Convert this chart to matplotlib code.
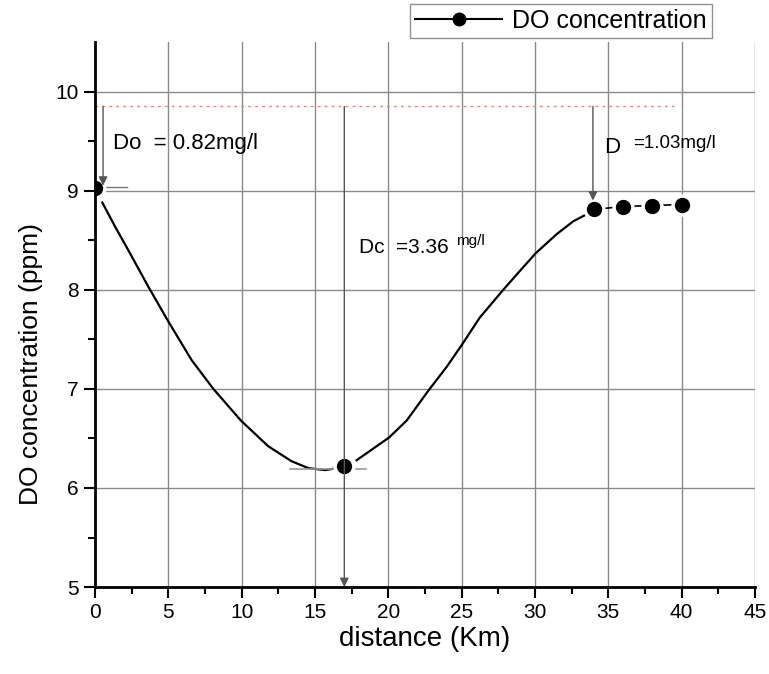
import matplotlib.pyplot as plt
import numpy as np
from matplotlib.lines import Line2D

plt.rcParams['font.family'] = ['Liberation Sans', 'DejaVu Sans']

# measured DO points
dist = [0, 17, 34, 36, 38, 40]
do_ppm = [9.03, 6.22, 8.81, 8.84, 8.85, 8.86]

# sag curve (NaN = gap at the critical point marker)
curve_x = [0.5, 1.36, 2.27, 3.64, 5.0, 6.59, 8.07, 9.95, 11.82, 13.4, 14.55, 15.7, 16.5,
           np.nan, 17.84, 20.06, 21.25, 22.72, 23.97, 25.04, 26.24, 27.84, 28.97, 30.06,
           31.47, 32.6, 33.5]
curve_y = [8.88, 8.64, 8.40, 8.03, 7.68, 7.29, 7.0, 6.68, 6.42, 6.27, 6.20, 6.18, 6.20,
           np.nan, 6.28, 6.51, 6.68, 6.98, 7.22, 7.45, 7.72, 8.0, 8.19, 8.37,
           8.56, 8.69, 8.76]

sat_level = 9.85
deficit_x = [0.55, 17, 33.95]
deficit_end = [9.05, 5.0, 8.9]

fig = plt.figure(figsize=(7.69, 6.74), dpi=100)
ax = fig.add_axes([0.1235, 0.129, 0.8583, 0.8087])

ax.set_xlim(0, 45)
ax.set_ylim(5, 10.5)
ax.set_xticks(np.arange(0, 46, 5))
ax.set_yticks(np.arange(5, 11, 1))
ax.set_xticks(np.arange(2.5, 45, 5), minor=True)
ax.set_yticks(np.arange(5.5, 10.5, 1), minor=True)
ax.grid(True, which='major', color='#8a8a8a', lw=1)
ax.set_axisbelow(True)

for s in ['top', 'right']:
    ax.spines[s].set_visible(False)
for s in ['left', 'bottom']:
    ax.spines[s].set_linewidth(2)
    ax.spines[s].set_zorder(10)
ax.tick_params(which='major', direction='out', length=8, width=1.5, labelsize=15)
ax.tick_params(which='minor', direction='out', length=5, width=1.5)

ax.plot(curve_x, curve_y, color='black', lw=1.6, zorder=3)

# short tangent lines
ax.plot([0.4, 2.2], [9.04, 9.04], color='#777777', lw=1, zorder=3)
ax.plot([13.3, 18.5], [6.19, 6.19], color='#999999', lw=1.2, zorder=3)

# saturation level
ax.plot([0, 39.5], [sat_level, sat_level], color='#f08080', lw=1, ls=(0, (2, 3)), zorder=2)

# connecting line for the tail, with gaps round markers
ax.plot(dist[2:], do_ppm[2:], color='black', lw=1.2, zorder=3)
ax.plot(dist, do_ppm, 'o', ms=15, color='white', zorder=4)
ax.plot(dist, do_ppm, 'o', ms=10, color='black', zorder=5)

for xv, ye in zip(deficit_x, deficit_end):
    ax.annotate('', xy=(xv, ye), xytext=(xv, sat_level),
                arrowprops=dict(arrowstyle='-|>', color='#555555', lw=1,
                                mutation_scale=13, shrinkA=0, shrinkB=0),
                zorder=6, annotation_clip=False)

ax.text(1.2, 9.48, 'Do  = 0.82mg/l', fontsize=16, va='center')
ax.text(18.0, 8.43, 'Dc  =3.36', fontsize=15, va='center')
ax.text(24.6, 8.49, 'mg/l', fontsize=11, va='center')
ax.text(34.7, 9.44, 'D', fontsize=16, va='center')
ax.text(36.7, 9.48, '=1.03mg/l', fontsize=13.5, va='center')

ax.set_xlabel('distance (Km)', fontsize=20, labelpad=3)
ax.set_ylabel('DO concentration (ppm)', fontsize=19)
ax.yaxis.set_label_coords(-0.078, 0.41)

handle = Line2D([], [], color='black', marker='o', ms=9, lw=1.5)
leg = fig.legend([handle], ['DO concentration'], loc='upper right', fontsize=18,
                 bbox_to_anchor=(0.926, 0.994), frameon=True, fancybox=False,
                 edgecolor='#777777', borderpad=0.2, handlelength=3.5, handletextpad=0.4,
                 borderaxespad=0)
leg.get_frame().set_linewidth(1)

fig.savefig('out.png', dpi=100)
